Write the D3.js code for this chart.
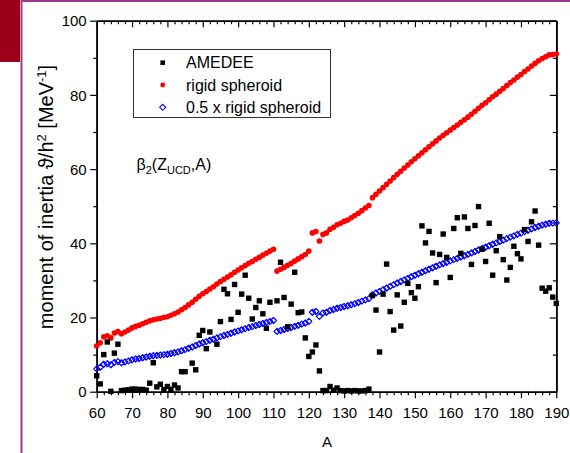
<!DOCTYPE html>
<html>
<head>
<meta charset="utf-8">
<script src="https://cdn.jsdelivr.net/npm/d3@7"></script>
<style>
  html, body { margin: 0; padding: 0; background: #fff; }
  svg { display: block; }
  text { font-family: "Liberation Sans", Arial, sans-serif; fill: #000; }
</style>
</head>
<body>
<svg id="chart" width="570" height="453"></svg>
<script>
// Mass numbers of the spheroid model series (one point per A)
const massNumbers = d3.range(60, 191);

// Rigid spheroid moment of inertia [MeV^-1], A = 60 ... 190
const rigidSpheroid = [
  12.3, 13.2, 14.8, 15.1, 14.5, 15.8, 16.2, 15.6, 16.1, 16.6,
  17.2, 17.6, 17.9, 18.3, 18.7, 19.1, 19.4, 19.6, 19.8, 20.0,
  20.2, 20.6, 21.0, 21.5, 22.1, 22.7, 23.4, 24.1, 24.9, 25.7,
  26.4, 27.0, 27.7, 28.3, 29.0, 29.7, 30.3, 30.9, 31.5, 32.2,
  32.8, 33.4, 34.0, 34.6, 35.1, 35.7, 36.2, 36.8, 37.3, 37.9,
  38.4, 32.5, 33.0, 33.5, 34.1, 34.6, 35.2, 35.8, 36.4, 37.0,
  37.9, 42.8, 43.2, 40.6, 42.4, 42.8, 43.8, 44.3, 45.0, 45.4,
  45.9, 46.3, 46.9, 47.5, 48.1, 48.8, 49.5, 50.2, 52.3, 53.2,
  54.1, 55.0, 55.9, 56.8, 57.7, 58.6, 59.4, 60.3, 61.1, 62.0,
  62.8, 63.6, 64.4, 65.2, 66.0, 66.8, 67.6, 68.4, 69.1, 69.8,
  70.5, 71.2, 71.9, 72.6, 73.3, 74.0, 74.8, 75.6, 76.4, 77.2,
  77.9, 78.7, 79.5, 80.2, 81.0, 81.7, 82.5, 83.3, 84.0, 84.8,
  85.5, 86.3, 87.0, 87.8, 88.5, 89.2, 89.8, 90.3, 90.8, 90.9,
  91.0
];

// Half of the rigid spheroid values, A = 60 ... 190
const halfRigidSpheroid = [
  6.15, 6.6, 7.4, 7.55, 7.25, 7.9, 8.1, 7.8, 8.05, 8.3,
  8.6, 8.8, 8.95, 9.15, 9.35, 9.55, 9.7, 9.8, 9.9, 10.0,
  10.1, 10.3, 10.5, 10.75, 11.05, 11.35, 11.7, 12.05, 12.45, 12.85,
  13.2, 13.5, 13.85, 14.15, 14.5, 14.85, 15.15, 15.45, 15.75, 16.1,
  16.4, 16.7, 17.0, 17.3, 17.55, 17.85, 18.1, 18.4, 18.65, 18.95,
  19.2, 16.25, 16.5, 16.75, 17.05, 17.3, 17.6, 17.9, 18.2, 18.5,
  18.95, 21.4, 21.6, 20.3, 21.2, 21.4, 21.9, 22.15, 22.5, 22.7,
  22.95, 23.15, 23.45, 23.75, 24.05, 24.4, 24.75, 25.1, 26.15, 26.6,
  27.05, 27.5, 27.95, 28.4, 28.85, 29.3, 29.7, 30.15, 30.55, 31.0,
  31.4, 31.8, 32.2, 32.6, 33.0, 33.4, 33.8, 34.2, 34.55, 34.9,
  35.25, 35.6, 35.95, 36.3, 36.65, 37.0, 37.4, 37.8, 38.2, 38.6,
  38.95, 39.35, 39.75, 40.1, 40.5, 40.85, 41.25, 41.65, 42.0, 42.4,
  42.75, 43.15, 43.5, 43.9, 44.25, 44.6, 44.9, 45.15, 45.4, 45.45,
  45.5
];

// AMEDEE values: mass numbers and moments of inertia [MeV^-1]
const amedeeA = [
  60, 61, 62, 63, 64, 65, 66, 67, 68, 69, 70, 71, 72, 73, 74, 75, 76, 77, 78, 79,
  80, 81, 82, 83, 84, 85, 87, 88, 89, 90, 91, 92, 94, 95, 96, 97, 98, 99,
  100, 101, 102, 103, 104, 105, 106, 107, 108, 109, 111, 112, 113, 114, 115, 116, 117, 118, 119,
  120, 121, 122, 123, 124, 125, 126, 127, 128, 129, 130, 131, 132, 133, 134, 135, 136, 137, 138, 139,
  140, 141, 142, 143, 144, 145, 146, 147, 148, 149, 150, 151, 152, 153, 154, 155, 156, 157, 158, 159,
  160, 161, 162, 163, 164, 165, 166, 167, 168, 169, 170, 171, 172, 173, 174, 175, 176, 177, 178, 179,
  180, 181, 182, 183, 184, 185, 186, 187, 188, 189, 190
];
const amedeeInertia = [
  4.3, 2.1, 10.0, 13.4, 0.1, 10.4, 12.8, 0.3, 0.4, 0.5, 0.7, 0.7, 0.6, 0.6, 0.4, 2.3, 7.8, 1.3, 2.0, 0.6,
  1.4, 0.6, 1.8, 1.0, 5.4, 5.4, 7.7, 5.9, 15.2, 16.5, 11.6, 16.1, 12.8, 18.9, 27.6, 26.4, 19.5, 28.9,
  21.4, 26.3, 31.4, 25.2, 19.6, 22.7, 24.5, 21.0, 17.1, 24.1, 24.5, 34.9, 25.4, 17.5, 23.6, 32.2, 21.3, 21.5, 14.5,
  9.5, 10.7, 12.6, 5.6, 0.3, 0.3, 1.4, 0.4, 1.0, 0.3, 0.2, 0.3, 0.2, 0.3, 0.2, 0.2, 0.3, 0.7, 25.9, 22.0,
  10.7, 26.3, 34.4, 21.6, 16.6, 26.1, 17.7, 24.1, 29.2, 26.7, 25.2, 28.3, 44.7, 40.1, 43.2, 37.4, 29.4, 37.0, 42.5, 36.2,
  30.8, 44.0, 46.9, 37.3, 47.1, 44.0, 34.3, 44.8, 49.9, 38.4, 35.1, 45.4, 31.4, 38.0, 41.8, 35.6, 30.1, 33.5, 39.2, 37.2,
  35.8, 43.7, 40.5, 45.8, 48.7, 39.5, 27.9, 27.1, 28.0, 25.5, 23.8
];

// Axis tick values
const xTicks = d3.range(60, 191, 10);
const xMinorTicks = d3.range(60, 191, 2).filter(v => v % 10 !== 0);
const yTicks = [0, 20, 40, 60, 80, 100];
const yMinorTicks = [10, 30, 50, 70, 90];

const legendLabels = ["AMEDEE", "rigid spheroid", "0.5 x rigid spheroid"];

const svg = d3.select("#chart");
const FONT = '"Liberation Sans", Arial, sans-serif';

// Page frame
svg.append("rect").attr("x", 0).attr("y", 0).attr("width", 20).attr("height", 62).attr("fill", "#9b0019");
svg.append("line").attr("x1", 21.5).attr("x2", 21.5).attr("y1", 0).attr("y2", 453)
  .attr("stroke", "#983a8e").attr("stroke-width", 2);
svg.append("line").attr("x1", 21).attr("x2", 570).attr("y1", 1).attr("y2", 1)
  .attr("stroke", "#983a8e").attr("stroke-width", 2);

const plotLeft = 96.7, plotRight = 556.3, plotTop = 20.7, plotBottom = 391.7;
const x = d3.scaleLinear().domain([60, 190]).range([plotLeft, plotRight]);
const y = d3.scaleLinear().domain([0, 100]).range([plotBottom, plotTop]);

const major = 6.5, minor = 3.5;

function styleAxis(g) {
  g.selectAll("path").attr("stroke", "#000").attr("stroke-width", 1.6);
  g.selectAll("line").attr("stroke", "#000").attr("stroke-width", 1.2);
  g.selectAll("text").attr("font-family", FONT).attr("font-size", 15).attr("fill", "#000");
}

// Bottom axis
const gxMinor = svg.append("g").attr("transform", `translate(0,${plotBottom})`)
  .call(d3.axisBottom(x).tickValues(xMinorTicks).tickSize(minor).tickFormat("").tickSizeOuter(0));
styleAxis(gxMinor);
const gx = svg.append("g").attr("transform", `translate(0,${plotBottom})`)
  .call(d3.axisBottom(x).tickValues(xTicks).tickSize(major).tickSizeOuter(0).tickPadding(6));
styleAxis(gx);
gx.selectAll("text").attr("dy", null).attr("y", 26.6);

// Top axis (ticks pointing inward, no labels)
const gtMinor = svg.append("g").attr("transform", `translate(0,${plotTop})`)
  .call(d3.axisTop(x).tickValues(xMinorTicks).tickSize(-minor).tickFormat("").tickSizeOuter(0));
styleAxis(gtMinor);
const gt = svg.append("g").attr("transform", `translate(0,${plotTop})`)
  .call(d3.axisTop(x).tickValues(xTicks).tickSize(-major).tickFormat("").tickSizeOuter(0));
styleAxis(gt);

// Left axis
const gyMinor = svg.append("g").attr("transform", `translate(${plotLeft},0)`)
  .call(d3.axisLeft(y).tickValues(yMinorTicks).tickSize(minor).tickFormat("").tickSizeOuter(0));
styleAxis(gyMinor);
const gy = svg.append("g").attr("transform", `translate(${plotLeft},0)`)
  .call(d3.axisLeft(y).tickValues(yTicks).tickSize(major).tickSizeOuter(0).tickPadding(4));
styleAxis(gy);
gy.selectAll("text").attr("dy", "0.35em").attr("x", -10);

// Right axis (ticks pointing inward, no labels)
const grMinor = svg.append("g").attr("transform", `translate(${plotRight},0)`)
  .call(d3.axisRight(y).tickValues(yMinorTicks).tickSize(-minor).tickFormat("").tickSizeOuter(0));
styleAxis(grMinor);
const gr = svg.append("g").attr("transform", `translate(${plotRight},0)`)
  .call(d3.axisRight(y).tickValues(yTicks).tickSize(-major).tickFormat("").tickSizeOuter(0));
styleAxis(gr);

// Axis titles
svg.append("text").attr("x", 327).attr("y", 446.7).attr("text-anchor", "middle")
  .attr("font-size", 15).text("A");

const yTitle = svg.append("text")
  .attr("transform", "translate(53,197) rotate(-90)")
  .attr("text-anchor", "middle").attr("font-size", 20);
yTitle.append("tspan").text("moment of inertia \u03D1/h");
yTitle.append("tspan").attr("font-size", 13).attr("dy", -7.5).text("2");
yTitle.append("tspan").attr("dy", 7.5).text(" [MeV");
yTitle.append("tspan").attr("font-size", 13).attr("dy", -7.5).text("-1");
yTitle.append("tspan").attr("dy", 7.5).text("]");

// Series: half rigid spheroid (open diamonds)
const diamond = s => `M0,${-s}L${s},0L0,${s}L${-s},0Z`;
svg.append("g").selectAll("path")
  .data(massNumbers.map((a, i) => [a, halfRigidSpheroid[i]]))
  .join("path")
  .attr("d", diamond(3))
  .attr("transform", d => `translate(${x(d[0])},${y(d[1])})`)
  .attr("fill", "none").attr("stroke", "#0000ff").attr("stroke-width", 1.25)
  .attr("stroke-linejoin", "round");

// Series: rigid spheroid (red dots)
svg.append("g").selectAll("circle")
  .data(massNumbers.map((a, i) => [a, rigidSpheroid[i]]))
  .join("circle")
  .attr("cx", d => x(d[0])).attr("cy", d => y(d[1])).attr("r", 2.8)
  .attr("fill", "#ff0000");

// Series: AMEDEE (black squares)
const sq = 5.4;
svg.append("g").selectAll("rect")
  .data(amedeeA.map((a, i) => [a, amedeeInertia[i]]))
  .join("rect")
  .attr("x", d => x(d[0]) - sq / 2).attr("y", d => y(d[1]) - sq / 2)
  .attr("width", sq).attr("height", sq).attr("fill", "#000");

// Legend
const lg = svg.append("g");
lg.append("rect").attr("x", 133.5).attr("y", 49.5).attr("width", 197).attr("height", 68)
  .attr("fill", "#fff").attr("stroke", "#333").attr("stroke-width", 1);
const rowY = [62.7, 85, 107.3];
const mx = 162.7;
lg.append("rect").attr("x", mx - 2.3).attr("y", rowY[0] - 2.3).attr("width", 4.6).attr("height", 4.6).attr("fill", "#000");
lg.append("circle").attr("cx", mx).attr("cy", rowY[1]).attr("r", 2.4).attr("fill", "#ff0000");
lg.append("path").attr("d", diamond(3)).attr("transform", `translate(${mx},${rowY[2]})`)
  .attr("fill", "none").attr("stroke", "#0000ff").attr("stroke-width", 1.1);
legendLabels.forEach((t, i) => {
  lg.append("text").attr("x", 186).attr("y", rowY[i] + 5.6).attr("font-size", 16).text(t);
});

// Deformation label
const beta = svg.append("text").attr("x", 136.5).attr("y", 170).attr("font-size", 16);
beta.append("tspan").text("\u03B2");
beta.append("tspan").attr("font-size", 11).attr("dy", 4).text("2");
beta.append("tspan").attr("dy", -4).text("(Z");
beta.append("tspan").attr("font-size", 11).attr("dy", 4).text("UCD");
beta.append("tspan").attr("dy", -4).text(",A)");
</script>
</body>
</html>
